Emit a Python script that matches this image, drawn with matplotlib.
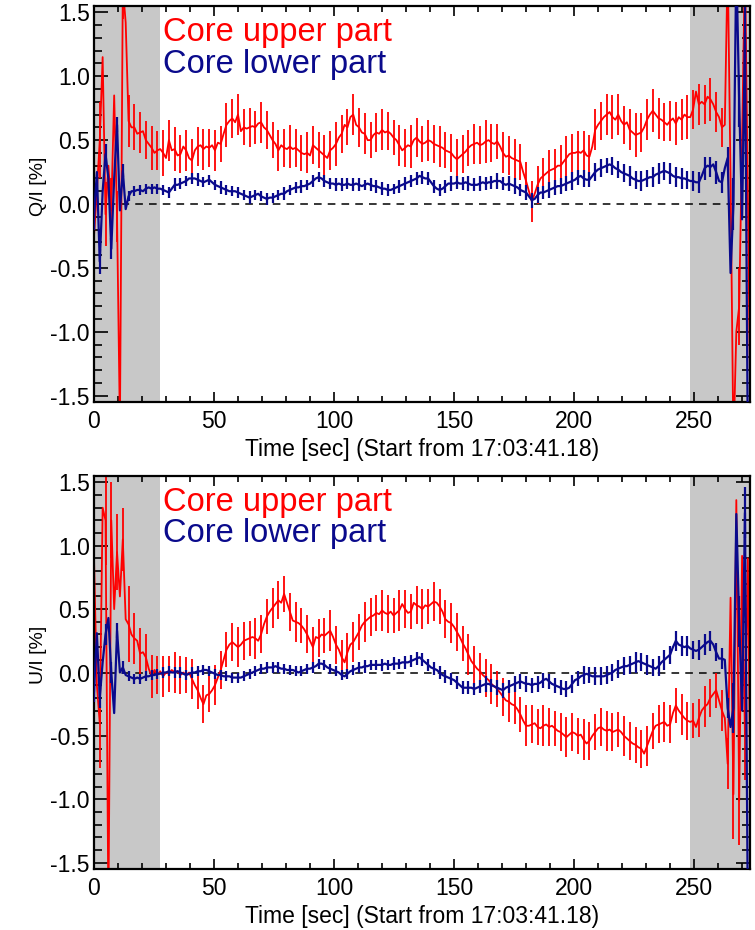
import numpy as np
import matplotlib
matplotlib.use("Agg")
import matplotlib.pyplot as plt
from matplotlib.ticker import MultipleLocator, FormatStrFormatter

plt.rcParams['axes.unicode_minus'] = False

# Sampling: one point every 1.2 s, error bars on every second point
cadence = 1.2
n_points = 229
time_s = np.arange(n_points) * cadence

# Q/I [%] -- core upper part
q_upper = [
    -0.25, 0.10, 0.50, 1.15, -0.08, 0.30, -0.05, 0.85, -0.10, -1.75,
    1.70, 1.42, 0.65, 0.60, 0.60, 0.55, 0.56, 0.57, 0.50, 0.47,
    0.44, 0.40, 0.42, 0.43, 0.40, 0.36, 0.50, 0.42, 0.43, 0.38,
    0.39, 0.45, 0.42, 0.36, 0.34, 0.42, 0.45, 0.46, 0.43, 0.45,
    0.44, 0.46, 0.42, 0.48, 0.47, 0.55, 0.62, 0.65, 0.67, 0.64,
    0.70, 0.57, 0.60, 0.59, 0.60, 0.61, 0.60, 0.63, 0.64, 0.60,
    0.58, 0.54, 0.50, 0.47, 0.42, 0.46, 0.44, 0.43, 0.45, 0.43,
    0.44, 0.42, 0.40, 0.39, 0.40, 0.38, 0.46, 0.44, 0.42, 0.40,
    0.38, 0.36, 0.42, 0.44, 0.47, 0.52, 0.55, 0.62, 0.60, 0.68,
    0.70, 0.62, 0.60, 0.56, 0.55, 0.50, 0.50, 0.54, 0.56, 0.55,
    0.58, 0.56, 0.57, 0.55, 0.52, 0.50, 0.46, 0.42, 0.44, 0.46,
    0.45, 0.50, 0.52, 0.49, 0.47, 0.48, 0.50, 0.49, 0.47, 0.46,
    0.45, 0.44, 0.42, 0.41, 0.40, 0.37, 0.35, 0.37, 0.39, 0.41,
    0.44, 0.46, 0.47, 0.48, 0.46, 0.47, 0.49, 0.50, 0.48, 0.47,
    0.49, 0.45, 0.40, 0.37, 0.38, 0.36, 0.35, 0.34, 0.33, 0.25,
    0.18, 0.10, 0.02, 0.08, 0.15, 0.20, 0.22, 0.24, 0.26, 0.27,
    0.28, 0.30, 0.30, 0.33, 0.36, 0.39, 0.40, 0.40, 0.41, 0.40,
    0.42, 0.38, 0.37, 0.45, 0.58, 0.62, 0.65, 0.68, 0.70, 0.72,
    0.68, 0.66, 0.70, 0.65, 0.62, 0.64, 0.58, 0.56, 0.54, 0.55,
    0.56, 0.60, 0.66, 0.70, 0.73, 0.70, 0.67, 0.66, 0.64, 0.62,
    0.65, 0.67, 0.63, 0.68, 0.66, 0.70, 0.68, 0.68, 0.74, 0.88,
    0.78, 0.80, 0.78, 0.84, 0.82, 0.78, 0.72, 0.68, 0.60, 0.62,
    1.90, 0.20, -1.90, -1.00, -0.80, 0.50, 1.90, 0.08, -1.90,
]

# Q/I [%] -- core lower part
q_lower = [
    -0.10, 0.25, -0.45, 0.10, 0.39, 0.20, -0.35, 0.20, 0.62, -0.05,
    0.26, -0.04, 0.06, 0.10, 0.10, 0.11, 0.11, 0.10, 0.12, 0.13,
    0.12, 0.13, 0.12, 0.12, 0.11, 0.10, 0.09, 0.12, 0.15, 0.15,
    0.16, 0.17, 0.18, 0.20, 0.20, 0.20, 0.19, 0.18, 0.17, 0.18,
    0.19, 0.17, 0.15, 0.14, 0.13, 0.12, 0.11, 0.10, 0.10, 0.10,
    0.09, 0.08, 0.07, 0.06, 0.05, 0.06, 0.07, 0.08, 0.06, 0.05,
    0.04, 0.05, 0.05, 0.06, 0.07, 0.08, 0.08, 0.10, 0.11, 0.12,
    0.13, 0.13, 0.14, 0.14, 0.15, 0.16, 0.18, 0.20, 0.21, 0.20,
    0.18, 0.17, 0.16, 0.16, 0.15, 0.16, 0.15, 0.15, 0.16, 0.15,
    0.15, 0.16, 0.15, 0.14, 0.15, 0.16, 0.15, 0.14, 0.14, 0.13,
    0.12, 0.12, 0.11, 0.11, 0.12, 0.13, 0.14, 0.15, 0.16, 0.17,
    0.18, 0.19, 0.20, 0.22, 0.21, 0.20, 0.20, 0.17, 0.14, 0.12,
    0.11, 0.12, 0.14, 0.16, 0.16, 0.16, 0.17, 0.16, 0.16, 0.17,
    0.16, 0.15, 0.15, 0.15, 0.16, 0.17, 0.16, 0.17, 0.17, 0.18,
    0.18, 0.18, 0.16, 0.15, 0.16, 0.15, 0.14, 0.13, 0.11, 0.10,
    0.09, 0.06, 0.03, 0.04, 0.07, 0.09, 0.09, 0.10, 0.11, 0.12,
    0.13, 0.14, 0.14, 0.15, 0.16, 0.17, 0.18, 0.19, 0.21, 0.22,
    0.20, 0.19, 0.19, 0.22, 0.25, 0.27, 0.28, 0.29, 0.30, 0.31,
    0.30, 0.28, 0.27, 0.25, 0.24, 0.23, 0.22, 0.20, 0.19, 0.18,
    0.18, 0.19, 0.20, 0.21, 0.21, 0.23, 0.24, 0.25, 0.26, 0.25,
    0.24, 0.22, 0.21, 0.21, 0.20, 0.20, 0.19, 0.18, 0.18, 0.17,
    0.17, 0.22, 0.28, 0.30, 0.29, 0.31, 0.25, 0.18, 0.17, 0.28,
    0.36, -0.54, 0.00, 1.90, 0.80, -0.12, 1.34, -1.90, -1.90,
]

# U/I [%] -- core upper part
u_upper = [
    0.90, -0.10, -0.40, 1.30, 1.20, -1.90, 1.20, 0.50, 0.95, 0.60,
    1.05, 0.42, 0.38, 0.30, 0.27, 0.25, 0.15, 0.16, 0.12, 0.03,
    -0.03, 0.02, -0.02, 0.01, -0.03, 0.00, -0.01, 0.02, 0.00, 0.01,
    -0.02, 0.00, -0.02, 0.00, -0.05, -0.10, -0.14, -0.20, -0.25, -0.18,
    -0.17, -0.14, -0.10, -0.04, 0.02, 0.10, 0.18, 0.22, 0.24, 0.22,
    0.20, 0.22, 0.25, 0.26, 0.27, 0.28, 0.27, 0.25, 0.30, 0.38,
    0.44, 0.48, 0.51, 0.54, 0.57, 0.55, 0.62, 0.55, 0.48, 0.41,
    0.40, 0.39, 0.37, 0.34, 0.30, 0.25, 0.20, 0.28, 0.27, 0.30,
    0.29, 0.31, 0.33, 0.28, 0.22, 0.18, 0.12, 0.08, 0.16, 0.22,
    0.24, 0.28, 0.32, 0.37, 0.40, 0.42, 0.44, 0.45, 0.47, 0.46,
    0.49, 0.47, 0.46, 0.48, 0.45, 0.47, 0.49, 0.54, 0.50, 0.47,
    0.48, 0.55, 0.53, 0.52, 0.50, 0.53, 0.52, 0.54, 0.56, 0.55,
    0.52, 0.48, 0.42, 0.40, 0.39, 0.36, 0.32, 0.28, 0.23, 0.19,
    0.14, 0.09, 0.06, 0.03, 0.01, -0.02, -0.04, -0.06, -0.09, -0.11,
    -0.13, -0.16, -0.19, -0.22, -0.23, -0.25, -0.26, -0.29, -0.33, -0.38,
    -0.42, -0.42, -0.41, -0.40, -0.43, -0.44, -0.42, -0.41, -0.43, -0.42,
    -0.44, -0.46, -0.47, -0.49, -0.51, -0.49, -0.47, -0.48, -0.50, -0.49,
    -0.53, -0.56, -0.54, -0.50, -0.47, -0.44, -0.43, -0.45, -0.46, -0.45,
    -0.47, -0.46, -0.45, -0.47, -0.50, -0.52, -0.54, -0.56, -0.57, -0.59,
    -0.60, -0.64, -0.58, -0.52, -0.46, -0.42, -0.41, -0.40, -0.39, -0.42,
    -0.41, -0.32, -0.26, -0.30, -0.33, -0.36, -0.38, -0.39, -0.38, -0.43,
    -0.36, -0.30, -0.27, -0.25, -0.20, -0.17, -0.14, -0.22, -0.30, -0.36,
    -0.72, 0.59, -0.96, 1.36, -1.01, 0.92, -0.50, 0.90, -1.20,
]

# U/I [%] -- core lower part
u_lower = [
    -0.15, 0.31, -0.20, 0.08, 0.30, 0.43, 0.00, -0.32, 0.33, 0.00,
    0.04, -0.02, -0.03, -0.04, -0.05, -0.04, -0.05, -0.04, -0.03, -0.03,
    -0.02, -0.02, -0.01, -0.01, 0.00, 0.00, 0.01, 0.00, 0.00, 0.01,
    0.00, -0.01, -0.02, -0.01, 0.00, 0.00, 0.01, 0.01, 0.02, 0.02,
    0.01, 0.00, -0.01, -0.02, -0.02, -0.03, -0.03, -0.03, -0.04, -0.04,
    -0.04, -0.04, -0.03, -0.02, -0.01, 0.00, 0.01, 0.02, 0.03, 0.03,
    0.04, 0.04, 0.04, 0.05, 0.04, 0.03, 0.03, 0.02, 0.02, 0.02,
    0.01, 0.00, 0.01, 0.02, 0.03, 0.03, 0.04, 0.05, 0.07, 0.07,
    0.06, 0.04, 0.03, 0.02, 0.01, 0.00, -0.02, -0.03, -0.01, 0.01,
    0.02, 0.03, 0.04, 0.04, 0.05, 0.05, 0.06, 0.06, 0.06, 0.06,
    0.06, 0.07, 0.06, 0.06, 0.07, 0.07, 0.07, 0.08, 0.08, 0.08,
    0.09, 0.10, 0.11, 0.12, 0.10, 0.08, 0.06, 0.04, 0.03, 0.02,
    0.00, -0.02, -0.03, -0.04, -0.05, -0.06, -0.08, -0.10, -0.12, -0.12,
    -0.12, -0.12, -0.13, -0.12, -0.11, -0.10, -0.09, -0.09, -0.10, -0.11,
    -0.12, -0.13, -0.14, -0.12, -0.11, -0.10, -0.09, -0.08, -0.07, -0.08,
    -0.09, -0.09, -0.10, -0.09, -0.09, -0.08, -0.06, -0.05, -0.07, -0.09,
    -0.10, -0.11, -0.12, -0.13, -0.13, -0.12, -0.09, -0.06, -0.05, -0.03,
    -0.02, -0.01, -0.02, -0.03, -0.03, -0.03, -0.03, -0.03, -0.02, -0.01,
    0.00, 0.02, 0.03, 0.04, 0.05, 0.05, 0.06, 0.07, 0.08, 0.09,
    0.08, 0.07, 0.06, 0.05, 0.04, 0.03, 0.05, 0.08, 0.10, 0.12,
    0.14, 0.20, 0.25, 0.22, 0.21, 0.20, 0.21, 0.19, 0.18, 0.17,
    0.18, 0.20, 0.22, 0.24, 0.25, 0.22, 0.16, 0.11, 0.11, 0.10,
    -0.28, -0.43, -0.28, 1.25, 0.40, -0.30, 1.26, -1.90, -1.90,
]

# One-sigma errors, one value per error bar (every second sample)
q_upper_err = [
    0.30, 0.30, 0.25, 0.25, 0.20, 0.25, 0.20, 0.18, 0.16, 0.15,
    0.17, 0.15, 0.18, 0.16, 0.17, 0.15, 0.16, 0.17, 0.15, 0.16,
    0.15, 0.16, 0.14, 0.17, 0.15, 0.16, 0.14, 0.15, 0.13, 0.16,
    0.15, 0.14, 0.16, 0.15, 0.17, 0.15, 0.14, 0.16, 0.15, 0.14,
    0.16, 0.15, 0.17, 0.15, 0.14, 0.16, 0.15, 0.16, 0.14, 0.15,
    0.16, 0.15, 0.14, 0.16, 0.15, 0.17, 0.15, 0.14, 0.16, 0.15,
    0.16, 0.14, 0.15, 0.16, 0.15, 0.14, 0.16, 0.15, 0.17, 0.15,
    0.14, 0.16, 0.15, 0.16, 0.14, 0.15, 0.16, 0.15, 0.14, 0.16,
    0.15, 0.16, 0.17, 0.15, 0.16, 0.15, 0.17, 0.16, 0.15, 0.16,
    0.17, 0.16, 0.15, 0.16, 0.17, 0.15, 0.16, 0.17, 0.16, 0.15,
    0.16, 0.17, 0.16, 0.17, 0.15, 0.16, 0.15, 0.17, 0.16, 0.15,
    0.18, 0.30, 0.30, 0.30, 0.30,
]

q_lower_err = [
    0.10, 0.10, 0.08, 0.08, 0.06, 0.05, 0.04, 0.04, 0.04, 0.04,
    0.04, 0.04, 0.04, 0.04, 0.05, 0.04, 0.04, 0.04, 0.05, 0.04,
    0.04, 0.04, 0.05, 0.04, 0.04, 0.04, 0.04, 0.05, 0.04, 0.04,
    0.05, 0.04, 0.04, 0.05, 0.04, 0.04, 0.05, 0.04, 0.05, 0.04,
    0.05, 0.04, 0.05, 0.05, 0.04, 0.05, 0.05, 0.04, 0.05, 0.05,
    0.05, 0.05, 0.04, 0.05, 0.05, 0.05, 0.05, 0.05, 0.05, 0.05,
    0.05, 0.05, 0.06, 0.05, 0.05, 0.06, 0.05, 0.06, 0.05, 0.05,
    0.06, 0.05, 0.06, 0.06, 0.05, 0.06, 0.06, 0.06, 0.05, 0.06,
    0.06, 0.06, 0.06, 0.07, 0.06, 0.07, 0.06, 0.07, 0.07, 0.06,
    0.07, 0.07, 0.07, 0.08, 0.07, 0.08, 0.07, 0.08, 0.08, 0.07,
    0.08, 0.08, 0.08, 0.07, 0.08, 0.08, 0.09, 0.08, 0.09, 0.08,
    0.09, 0.20, 0.20, 0.20, 0.20,
]

u_upper_err = [
    0.35, 0.35, 0.35, 0.30, 0.30, 0.25, 0.30, 0.20, 0.20, 0.18,
    0.17, 0.15, 0.16, 0.14, 0.16, 0.15, 0.14, 0.16, 0.15, 0.15,
    0.14, 0.16, 0.15, 0.14, 0.15, 0.16, 0.15, 0.14, 0.16, 0.15,
    0.14, 0.16, 0.15, 0.14, 0.15, 0.16, 0.14, 0.15, 0.16, 0.15,
    0.14, 0.16, 0.15, 0.14, 0.15, 0.16, 0.14, 0.16, 0.15, 0.14,
    0.16, 0.15, 0.14, 0.16, 0.15, 0.14, 0.15, 0.16, 0.14, 0.15,
    0.14, 0.15, 0.16, 0.15, 0.14, 0.16, 0.15, 0.14, 0.15, 0.16,
    0.14, 0.15, 0.16, 0.15, 0.14, 0.16, 0.15, 0.14, 0.16, 0.15,
    0.14, 0.15, 0.16, 0.15, 0.14, 0.16, 0.15, 0.14, 0.15, 0.16,
    0.15, 0.14, 0.16, 0.15, 0.14, 0.15, 0.16, 0.14, 0.15, 0.16,
    0.15, 0.14, 0.16, 0.15, 0.14, 0.15, 0.16, 0.15, 0.14, 0.16,
    0.20, 0.35, 0.35, 0.35, 0.35,
]

u_lower_err = [
    0.08, 0.08, 0.08, 0.08, 0.06, 0.05, 0.04, 0.04, 0.04, 0.04,
    0.04, 0.04, 0.04, 0.04, 0.04, 0.04, 0.04, 0.04, 0.04, 0.04,
    0.04, 0.04, 0.04, 0.04, 0.04, 0.04, 0.04, 0.04, 0.04, 0.04,
    0.04, 0.04, 0.04, 0.04, 0.04, 0.04, 0.04, 0.04, 0.04, 0.04,
    0.04, 0.04, 0.04, 0.04, 0.04, 0.04, 0.04, 0.05, 0.04, 0.04,
    0.05, 0.04, 0.05, 0.04, 0.05, 0.05, 0.05, 0.05, 0.05, 0.05,
    0.05, 0.05, 0.05, 0.05, 0.05, 0.05, 0.05, 0.05, 0.06, 0.05,
    0.06, 0.06, 0.05, 0.06, 0.06, 0.06, 0.06, 0.06, 0.06, 0.06,
    0.06, 0.06, 0.06, 0.07, 0.06, 0.07, 0.06, 0.07, 0.07, 0.07,
    0.07, 0.07, 0.07, 0.07, 0.08, 0.07, 0.08, 0.07, 0.08, 0.08,
    0.07, 0.08, 0.08, 0.08, 0.07, 0.08, 0.08, 0.08, 0.07, 0.08,
    0.08, 0.20, 0.20, 0.20, 0.20,
]

# Quiet-sky windows excluded from the analysis (grey bands)
excluded_windows = [(0.0, 27.5), (248.5, 275.0)]

y_labels = ["Q/I [%]", "U/I [%]"]
x_label = "Time [sec] (Start from 17:03:41.18)"
series_names = ["Core upper part", "Core lower part"]

RED = "#ff0000"
NAVY = "#0a0a8c"
GREY = "#c8c8c8"

TICK_FONT = ["Liberation Sans Narrow", "Liberation Sans", "DejaVu Sans"]
TEXT_FONT = ["Liberation Sans", "DejaVu Sans"]

fig = plt.figure(figsize=(7.55, 9.3), dpi=100)

W, H = 755.0, 930.0
rects = [
    [94 / W, (H - 402) / H, 656 / W, 396 / H],
    [94 / W, (H - 869) / H, 656 / W, 393 / H],
]
panels = [
    (q_upper, q_upper_err, q_lower, q_lower_err, y_labels[0]),
    (u_upper, u_upper_err, u_lower, u_lower_err, y_labels[1]),
]

for rect, (up, up_err, lo, lo_err, ylab) in zip(rects, panels):
    ax = fig.add_axes(rect)
    up = np.asarray(up)
    lo = np.asarray(lo)

    for x0, x1 in excluded_windows:
        ax.axvspan(x0, x1, color=GREY, lw=0, zorder=0)
    ax.axhline(0.0, color="black", lw=1.1, ls=(0, (5, 4)), zorder=1)

    ax.plot(time_s, up, color=RED, lw=1.3, zorder=2)
    ax.errorbar(time_s[::2], up[::2], yerr=up_err, fmt="none",
                ecolor=RED, elinewidth=1.3, capsize=0, zorder=2)
    ax.plot(time_s, lo, color=NAVY, lw=1.6, zorder=3)
    ax.errorbar(time_s[::2], lo[::2], yerr=lo_err, fmt="none",
                ecolor=NAVY, elinewidth=1.6, capsize=0, zorder=3)

    ax.set_xlim(0, 273.3)
    ax.set_ylim(-1.55, 1.55)

    ax.xaxis.set_major_locator(MultipleLocator(50))
    ax.xaxis.set_minor_locator(MultipleLocator(10))
    ax.yaxis.set_major_locator(MultipleLocator(0.5))
    ax.yaxis.set_minor_locator(MultipleLocator(0.1))
    ax.yaxis.set_major_formatter(FormatStrFormatter("%.1f"))

    ax.tick_params(axis="both", which="both", direction="in",
                   top=True, right=True, width=1.2, colors="black")
    ax.tick_params(axis="x", which="major", length=7, pad=6)
    ax.tick_params(axis="x", which="minor", length=4)
    ax.tick_params(axis="y", which="major", length=10, pad=3)
    ax.tick_params(axis="y", which="minor", length=6)
    for lbl in ax.get_xticklabels() + ax.get_yticklabels():
        lbl.set_fontfamily(TICK_FONT)
        lbl.set_fontsize(16.5)

    for sp in ax.spines.values():
        sp.set_linewidth(1.6)

    ax.set_xlabel(x_label, fontsize=16.5, family=TICK_FONT, labelpad=3)
    ax.set_ylabel(ylab, fontsize=14, family=TEXT_FONT)
    ax.yaxis.set_label_coords(-0.072, 0.545)

    ax.text(0.105, 0.933, series_names[0], transform=ax.transAxes,
            color=RED, fontsize=23.5, family=TEXT_FONT, va="center", ha="left")
    ax.text(0.105, 0.853, series_names[1], transform=ax.transAxes,
            color=NAVY, fontsize=23.5, family=TEXT_FONT, va="center", ha="left")

fig.savefig("out.png", dpi=100)
